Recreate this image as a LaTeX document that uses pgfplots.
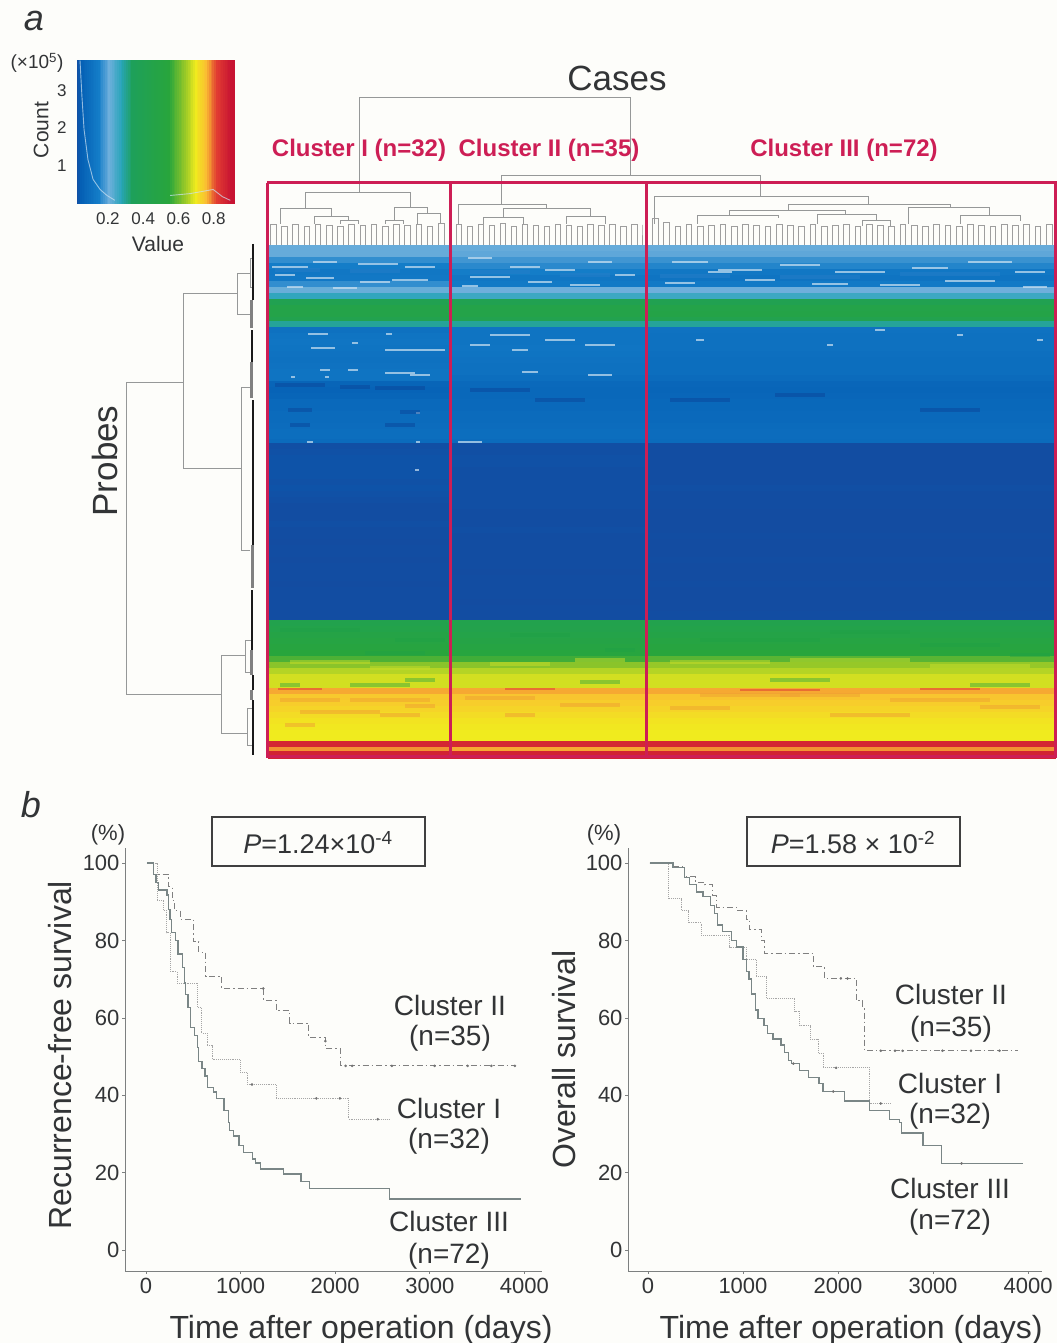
\documentclass[border=0pt]{standalone}
\usepackage{pgfplots}
\usepackage{pgfplotstable}
\usepackage{fontspec}
\setmainfont{Liberation Sans}
\pgfplotsset{compat=1.18}
\definecolor{paper}{RGB}{253,253,250}
\definecolor{txt}{RGB}{50,52,54}
\definecolor{crim}{RGB}{205,30,85}
\definecolor{dend}{RGB}{150,152,152}
\definecolor{axl}{RGB}{125,128,128}
\definecolor{sdark}{RGB}{10,70,155}
\definecolor{smid}{RGB}{35,125,200}
\definecolor{sgreen}{RGB}{30,160,70}
\definecolor{slime}{RGB}{200,220,40}
\definecolor{sorange}{RGB}{240,160,50}
\definecolor{sred}{RGB}{225,70,50}
\definecolor{spale}{RGB}{205,226,242}
\definecolor{sIII}{RGB}{122,134,134}
\newcommand\fs[1]{\fontsize{#1}{#1}\selectfont}
\pgfplotsset{
 colormap={hm}{rgb255(0)=(10,62,150); rgb255(2.5)=(20,75,160); rgb255(5)=(5,95,180); rgb255(15)=(20,125,200); rgb255(21)=(110,175,220); rgb255(28)=(40,165,185); rgb255(34)=(30,160,90); rgb255(55)=(40,165,60); rgb255(64)=(150,200,40); rgb255(70)=(240,235,30); rgb255(76)=(250,190,50); rgb255(82)=(225,60,50); rgb255(90)=(200,20,50); rgb255(100)=(190,15,50)},
 cell/.style n args={2}{scatter, only marks, mark=square*, mark size=1pt, forget plot,
   point meta=explicit, mark options={xscale=#1,yscale=#2,line width=0.2pt},
   scatter/use mapped color={draw=mapped color,fill=mapped color}},
 heatframe/.style={at={(268pt,586pt)},anchor=south west,scale only axis,width=787pt,height=512pt,
   xmin=268,xmax=1055,ymin=245,ymax=757,y dir=reverse,hide axis,clip=false},
 surv/.style={scale only axis, width=417pt, height=423pt, xmin=-222, xmax=4186, ymin=-5.4, ymax=103.9,
   axis lines*=left, axis line style={-,draw=axl,line width=0.9pt},
   xtick={0,1000,2000,3000,4000}, ytick={0,20,40,60,80,100},
   tick style={draw=axl,line width=0.7pt}, major tick length=3pt, tick align=outside,
   tick label style={font=\fs{22},text=txt},
   /pgf/number format/assume math mode=true, /pgf/number format/1000 sep={},
   xticklabel style={yshift=-1pt}, yticklabel style={xshift=1pt},
   clip=false},
 cIII/.style={const plot, no marks, draw=sIII, line width=1.4pt},
 cI/.style={const plot, no marks, draw=black!35, line width=0.9pt, densely dotted},
 cII/.style={const plot, no marks, draw=black!50, line width=1pt, dash pattern=on 6pt off 3pt on 1.5pt off 3pt},
 cens/.style={only marks, mark=*, mark size=1.1pt, forget plot, mark options={draw=black!55,fill=black!55}},
}
\newcommand\nd[5]{\addplot[no marks,forget plot,draw=dend,line width=0.8pt] coordinates {(#1,#4)(#1,#3)(#2,#3)(#2,#5)};}
\newcommand\nh[5]{\addplot[no marks,forget plot,draw=dend,line width=0.8pt] coordinates {(#4,#1)(#3,#1)(#3,#2)(#5,#2)};}
% streaks in the heat map: x from, x to, row
\newcommand\mk[4]{\newcommand#1[3]{\addplot[no marks,forget plot,draw=#2,line width=#3,opacity=#4] coordinates {(##1,##3)(##2,##3)};}}
\mk\Sa{spale}{1.4pt}{.7}
\mk\Sd{sdark}{4pt}{.5}
\mk\Sm{smid}{4pt}{.6}
\mk\Sg{sgreen}{4pt}{.4}
\mk\Sy{slime}{4pt}{.5}
\mk\So{sorange}{4pt}{.5}
\mk\Sr{sred}{2.5pt}{.6}
\pgfplotstableread{
y c1 c2 c3
248 .205 .205 .205
254 .205 .20 .20
260 .17 .18 .175
266 .15 .165 .16
272 .13 .15 .13
278 .135 .13 .12
284 .17 .14 .14
290 .215 .21 .21
296 .27 .26 .26
302 .40 .40 .40
308 .46 .46 .46
314 .46 .46 .47
320 .42 .42 .42
324 .30 .30 .30
330 .11 .12 .115
336 .12 .12 .11
342 .125 .12 .11
348 .12 .125 .11
354 .115 .12 .105
360 .11 .115 .10
366 .115 .11 .10
372 .12 .11 .10
378 .12 .10 .09
384 .07 .085 .075
390 .065 .08 .07
396 .07 .08 .075
402 .085 .085 .08
408 .085 .085 .08
414 .09 .09 .085
420 .09 .09 .085
426 .095 .095 .09
432 .10 .10 .095
438 .10 .10 .095
442 .09 .09 .09
446 .03 .03 .028
452 .032 .03 .028
458 .035 .032 .028
464 .035 .032 .028
470 .035 .03 .028
476 .035 .03 .028
482 .032 .03 .028
488 .035 .03 .03
494 .032 .03 .028
500 .03 .03 .028
506 .028 .03 .028
512 .028 .028 .026
518 .028 .028 .026
524 .03 .028 .026
530 .028 .03 .026
536 .028 .028 .028
542 .026 .028 .026
548 .028 .028 .026
554 .028 .028 .026
560 .026 .028 .028
566 .028 .028 .026
572 .028 .026 .026
578 .028 .028 .026
584 .026 .028 .028
590 .028 .028 .026
596 .028 .028 .026
602 .028 .026 .026
608 .028 .028 .026
614 .028 .028 .028
617 .028 .028 .028
623 .43 .43 .43
629 .45 .44 .45
635 .48 .46 .47
641 .50 .48 .50
647 .52 .50 .52
653 .55 .53 .55
659 .58 .57 .59
665 .63 .63 .64
671 .66 .66 .66
677 .68 .68 .68
683 .68 .68 .68
686 .68 .68 .68
691 .77 .77 .77
697 .745 .75 .75
703 .74 .74 .74
709 .73 .73 .73
715 .72 .72 .72
721 .71 .71 .71
727 .705 .705 .705
733 .70 .70 .70
738 .70 .70 .70
744 .86 .86 .86
750 .78 .77 .78
754.8 .87 .87 .87
}\heatrows
\begin{document}
\begin{tikzpicture}
\useasboundingbox (0,0) rectangle (1057pt,1343pt);
\fill[paper] (0,0) rectangle (1057pt,1343pt);
% ---- page-wide axis in pixel units: dendrograms and annotations
\begin{axis}[at={(0,0)},anchor=south west,scale only axis,width=1057pt,height=1343pt,
  xmin=0,xmax=1057,ymin=0,ymax=1343,y dir=reverse,hide axis,clip=false]
% case dendrogram, upper levels
\nd{359}{630}{97}{192}{175}
\nd{501}{760}{175}{204}{196}
\nd{305}{410}{192}{208}{207}
\nd{280}{331}{208}{224}{216}
\nd{314}{348}{216}{224}{220}
\nd{340}{358}{220}{224}{224}
\nd{394}{427}{207}{220}{213}
\nd{385}{403}{220}{224}{224}
\nd{417}{440}{213}{224}{224}
\nd{458}{546}{204}{224}{208}
\nd{503}{590}{208}{217}{216}
\nd{483}{523}{217}{224}{224}
\nd{566}{605}{216}{224}{224}
\nd{654}{868}{196}{224}{204}
\nd{788}{950}{204}{210}{207}
\nd{729}{845}{210}{215}{214}
\nd{908}{989}{207}{224}{215}
\nd{697}{778}{215}{224}{218}
\nd{817}{876}{214}{224}{220}
\nd{960}{1020}{215}{224}{221}
\nd{862}{890}{220}{226}{226}
% case dendrogram, leaves (the lower ends run under the heat map)
\addplot[const plot,no marks,forget plot,draw=black!38,line width=0.8pt] coordinates {
(270,246)(270,224)(276,246)(281,226)(287,246)(292,224)(298,246)(304,226)(309,246)(315,224)(320,246)(326,225)(332,246)(337,226)(343,246)(348,224)(354,246)(360,225)(365,246)(371,224)(376,246)(382,226)(388,246)(393,224)(399,246)(404,225)(410,246)(416,224)(421,246)(427,226)(432,246)(438,223)(444,246)};
\addplot[const plot,no marks,forget plot,draw=black!38,line width=0.8pt] coordinates {
(456,246)(456,224)(461,246)(467,226)(472,246)(478,224)(483,246)(489,225)(494,246)(500,223)(505,246)(511,226)(516,246)(522,224)(527,246)(533,225)(538,246)(544,226)(549,246)(555,224)(560,246)(566,225)(571,246)(577,226)(582,246)(587,224)(593,246)(598,225)(604,246)(609,224)(615,246)(620,226)(626,246)(631,224)(637,246)(642,225)(642,246)};
\addplot[const plot,no marks,forget plot,draw=black!38,line width=0.8pt] coordinates {
(652,246)(652,218)(658,246)(663,222)(669,246)(675,226)(680,246)(686,224)(691,246)(697,226)(703,246)(708,225)(714,246)(720,224)(725,246)(731,226)(737,246)(742,224)(748,246)(753,225)(759,246)(765,226)(770,246)(776,224)(782,246)(787,225)(793,246)(798,226)(804,246)(810,224)(815,246)(821,226)(827,246)(832,225)(838,246)(843,224)(849,246)(855,226)(860,246)(866,224)(872,246)(877,225)(883,246)(888,226)(894,246)(900,224)(905,246)(911,225)(917,246)(922,226)(928,246)(933,224)(939,246)(945,225)(950,246)(956,226)(962,246)(967,224)(973,246)(978,225)(984,246)(990,226)(995,246)(1001,224)(1007,246)(1012,225)(1018,246)(1023,224)(1029,246)(1035,226)(1040,246)(1046,224)(1052,246)};
% probe dendrogram
\nh{382}{694}{126}{183}{221}
\nh{293}{468}{183}{237}{241}
\nh{273}{314}{237}{250}{250}
\nh{387}{550}{241}{250}{250}
\nh{655}{733}{221}{245}{247}
\nh{640}{672}{245}{252}{252}
\nh{708}{745}{247}{252}{252}
\nh{258}{287}{250}{253}{253}
\addplot[no marks,forget plot,draw=black!90,line width=2pt] table {
x y
253 244
253 300

252 330
252 362

253 400
253 545

252 590
252 650

253 675
253 690

253 700
253 755
};
\addplot[no marks,forget plot,draw=black!50,line width=3pt] table {
x y
251 300
251 328

251 362
251 398

252 545
252 588

251 650
251 675

251 690
251 700
};
% texts
\node[font=\itshape\fs{36},text=txt] at (axis cs:34,21) {a};
\node[font=\itshape\fs{36},text=txt] at (axis cs:31,805) {b};
\node[font=\fs{19},text=txt] at (axis cs:37,63) {(×10\textsuperscript{5})};
\node[font=\fs{35},text=txt] at (axis cs:617,78) {Cases};
\node[font=\fs{35},text=txt,rotate=90] at (axis cs:105,461) {Probes};
\node[font=\bfseries\fs{24},text=crim] at (axis cs:359,150.5) {Cluster I (n=32)};
\node[font=\bfseries\fs{24},text=crim] at (axis cs:549,150.5) {Cluster II (n=35)};
\node[font=\bfseries\fs{24},text=crim] at (axis cs:844,150.5) {Cluster III (n=72)};
\node[font=\fs{22},text=txt] at (axis cs:108,835) {(\%)};
\node[font=\fs{22},text=txt] at (axis cs:604,835) {(\%)};
\draw[black!75,line width=1.2pt] (axis cs:212,817) rectangle (axis cs:425,866);
\draw[black!75,line width=1.2pt] (axis cs:747,817) rectangle (axis cs:960,866);
\node[font=\fs{27},text=txt] at (axis cs:318,843) {{\itshape P}=1.24×10\textsuperscript{-4}};
\node[font=\fs{27},text=txt] at (axis cs:853,843) {{\itshape P}=1.58 × 10\textsuperscript{-2}};
\node[font=\fs{28},text=txt] at (axis cs:450,1005) {Cluster II};
\node[font=\fs{28},text=txt] at (axis cs:450,1038) {(n=35)};
\node[font=\fs{28},text=txt] at (axis cs:449,1108) {Cluster I};
\node[font=\fs{28},text=txt] at (axis cs:449,1141) {(n=32)};
\node[font=\fs{28},text=txt] at (axis cs:449,1221) {Cluster III};
\node[font=\fs{28},text=txt] at (axis cs:449,1256) {(n=72)};
\node[font=\fs{28},text=txt] at (axis cs:951,994) {Cluster II};
\node[font=\fs{28},text=txt] at (axis cs:951,1029) {(n=35)};
\node[font=\fs{28},text=txt] at (axis cs:950,1083) {Cluster I};
\node[font=\fs{28},text=txt] at (axis cs:950,1116) {(n=32)};
\node[font=\fs{28},text=txt] at (axis cs:950,1188) {Cluster III};
\node[font=\fs{28},text=txt] at (axis cs:950,1222) {(n=72)};
\end{axis}
% ---- heat map: rows
\begin{axis}[heatframe,colormap name=hm,point meta min=0,point meta max=1]
\addplot[cell={91}{3.2}] table[x expr=359,y=y,meta=c1] {\heatrows};
\addplot[cell={98}{3.2}] table[x expr=548,y=y,meta=c2] {\heatrows};
\addplot[cell={204.5}{3.2}] table[x expr=850.5,y=y,meta=c3] {\heatrows};
\end{axis}
% ---- heat map: streaks and frames, on top of the rows
\begin{axis}[heatframe]
\Sm{275}{320}{270}\Sm{350}{400}{271}\Sm{470}{530}{272}\Sm{560}{610}{275}\Sm{660}{730}{276}\Sm{780}{860}{277}\Sm{900}{1000}{274}
\Sa{272}{308}{267}\Sa{313}{337}{262}\Sa{358}{398}{264}\Sa{405}{435}{267}\Sa{275}{295}{275}\Sa{306}{334}{278}\Sa{360}{390}{282}\Sa{392}{428}{280}\Sa{287}{303}{287}\Sa{333}{357}{288}
\Sa{468}{492}{258}\Sa{510}{540}{267}\Sa{545}{575}{270}\Sa{588}{612}{262}\Sa{470}{510}{277}\Sa{528}{552}{282}\Sa{570}{600}{285}\Sa{615}{635}{275}\Sa{462}{478}{286}
\Sa{672}{708}{262}\Sa{718}{762}{270}\Sa{780}{820}{265}\Sa{835}{885}{272}\Sa{912}{948}{268}\Sa{968}{1012}{262}\Sa{1015}{1045}{272}\Sa{665}{695}{283}\Sa{745}{775}{280}\Sa{812}{848}{284}\Sa{880}{920}{285}\Sa{945}{995}{281}\Sa{1023}{1047}{287}\Sa{708}{732}{272}
\Sa{308}{328}{334}\Sa{386}{392}{334}\Sa{385}{445}{350}\Sa{311}{335}{348}\Sa{352}{358}{343}\Sa{320}{330}{370}\Sa{348}{358}{370}\Sa{385}{415}{373}\Sa{410}{430}{375}\Sa{291}{295}{377}\Sa{325}{329}{377}\Sa{416}{420}{413}\Sa{307}{313}{442}\Sa{416}{420}{442}\Sa{415}{419}{470}
\Sa{490}{530}{335}\Sa{545}{575}{340}\Sa{585}{615}{345}\Sa{470}{490}{345}\Sa{522}{538}{372}\Sa{588}{612}{375}\Sa{458}{482}{442}\Sa{512}{528}{350}
\Sa{696}{704}{340}\Sa{827}{833}{345}\Sa{875}{885}{330}\Sa{957}{963}{335}\Sa{1037}{1043}{340}
\Sd{275}{325}{385}\Sd{340}{370}{387}\Sd{375}{425}{388}\Sd{288}{312}{410}\Sd{400}{420}{412}\Sd{290}{310}{425}\Sd{385}{415}{425}\Sd{470}{530}{390}\Sd{535}{585}{400}\Sd{670}{730}{400}\Sd{775}{825}{395}\Sd{920}{980}{410}
\Sg{280}{360}{630}\Sg{395}{445}{640}\Sg{365}{425}{653}\Sg{510}{570}{635}\Sg{605}{635}{650}\Sg{700}{820}{640}\Sg{830}{910}{632}\Sg{920}{1000}{645}\Sg{1010}{1050}{655}\Sg{405}{435}{680}\Sg{350}{410}{685}\Sg{280}{300}{685}\Sg{580}{620}{682}\Sg{770}{830}{680}\Sg{970}{1030}{685}
\Sy{290}{370}{662}\Sy{370}{430}{668}\Sy{490}{550}{664}\Sy{575}{625}{660}\Sy{670}{770}{662}\Sy{790}{910}{660}\Sy{930}{1030}{666}
\So{280}{340}{700}\So{350}{430}{700}\So{300}{380}{712}\So{405}{435}{706}\So{285}{315}{725}\So{380}{420}{715}\So{465}{535}{698}\So{560}{620}{705}\So{505}{535}{715}\So{700}{800}{695}\So{780}{860}{695}\So{890}{990}{700}\So{980}{1040}{707}\So{670}{730}{708}\So{830}{910}{715}
\Sr{278}{322}{689}\Sr{505}{555}{689}\Sr{740}{820}{690}\Sr{920}{980}{689}
% frames of the clusters
\addplot[no marks,forget plot,draw=crim,line width=3pt] coordinates {(267,183)(1055.5,183)(1055.5,757)(267,757)(267,183)};
\addplot[no marks,forget plot,draw=crim,line width=3pt] coordinates {(450,183)(450,757)};
\addplot[no marks,forget plot,draw=crim,line width=3pt] coordinates {(646,183)(646,757)};
\end{axis}
% ---- colour key
\begin{axis}[at={(77pt,1140pt)},anchor=south west,scale only axis,width=157pt,height=143pt,
  xmin=.025,xmax=.915,ymin=0,ymax=3.81,colormap name=hm,point meta min=0,point meta max=1,
  axis line style={draw=none},major tick length=0pt,clip=false,
  xtick={.2,.4,.6,.8},ytick={1,2,3},
  tick label style={font=\fs{17},text=txt},/pgf/number format/assume math mode=true,
  /pgf/number format/fixed,/pgf/number format/precision=1,
  xticklabel style={yshift=-6pt},yticklabel style={xshift=-7pt},
  xlabel={Value},ylabel={Count},
  every axis x label/.style={at={(axis description cs:.516,-.285)},anchor=center,font=\fs{21},text=txt},
  every axis y label/.style={at={(axis description cs:-.228,.51)},anchor=center,rotate=90,font=\fs{21},text=txt}]
\addplot[cell={1.15}{71.5}] table[row sep=\\,x=v,y expr=1.905,meta=v] {
v\\.03\\.04\\.05\\.06\\.07\\.08\\.09\\.10\\.11\\.12\\.13\\.14\\.15\\.16\\.17\\.18\\.19\\.20\\.21\\.22\\.23\\.24\\.25\\.26\\.27\\.28\\.29\\.30\\.31\\.32\\.33\\.34\\.35\\.36\\.37\\.38\\.39\\.40\\.41\\.42\\.43\\.44\\.45\\.46\\.47\\.48\\.49\\.50\\.51\\.52\\.53\\.54\\.55\\.56\\.57\\.58\\.59\\.60\\.61\\.62\\.63\\.64\\.65\\.66\\.67\\.68\\.69\\.70\\.71\\.72\\.73\\.74\\.75\\.76\\.77\\.78\\.79\\.80\\.81\\.82\\.83\\.84\\.85\\.86\\.87\\.88\\.89\\.90\\.91\\
};
\end{axis}
\begin{axis}[at={(77pt,1140pt)},anchor=south west,scale only axis,width=157pt,height=143pt,
  xmin=.025,xmax=.915,ymin=0,ymax=3.81,hide axis]
\addplot[no marks,forget plot,draw=spale,line width=0.9pt,opacity=.7] coordinates {(.042,3.8)(.053,2.84)(.065,1.96)(.087,1.16)(.116,.63)(.156,.36)(.195,.2)(.24,.07)};
\addplot[no marks,forget plot,draw=spale,line width=0.9pt,opacity=.7] coordinates {(.553,.2)(.667,.25)(.797,.36)(.849,.17)(.894,.07)};
\end{axis}
% ---- recurrence-free survival
\begin{axis}[surv,at={(125pt,72pt)},anchor=south west,
  xlabel={Time after operation (days)},ylabel={Recurrence-free survival},
  every axis x label/.style={at={(axis description cs:.566,-.139)},anchor=center,font=\fs{32},text=txt},
  every axis y label/.style={at={(axis description cs:-.156,.51)},anchor=center,rotate=90,font=\fs{32},text=txt}]
\addplot[cI] table {
x y
10 100
116 90.4
187 87.7
220 82
257 72
328 69
545 62.7
590 56
645 52.8
698 49.2
997 46
1068 42.8
1378 39.2
2142 33.8
2583 33.8
};
\addplot[cII] table {
x y
10 100
75 97.1
239 94
275 90.4
300 87.7
363 85.5
504 79.7
560 77
634 70.7
803 67.6
1244 64.5
1378 61.8
1519 58.6
1720 55
1896 52.2
2054 47.6
3904 47.6
};
\addplot[cIII] table {
x y
10 100
78 97
105 95
130 93
222 91.8
240 88
255 85.5
272 82
310 80
340 76.5
385 73
405 69
420 66
445 62.7
470 57.5
510 55.5
545 52.4
557 48.8
590 47
625 45
650 42
715 40.8
745 39.2
825 36
870 33
885 30.9
927 29.5
985 27
1032 25.2
1125 23.5
1160 22.5
1209 21
1455 19.7
1640 17.7
1730 15.9
2576 13.2
3964 13.2
};
\addplot[cens] coordinates {(2110,47.6)(2180,47.6)(2600,47.6)(3050,47.6)(3400,47.6)(3650,47.6)(3900,47.6)(1896,54)(1240,67.6)(1120,42.8)(1800,39.2)(2050,39.2)(2450,33.8)};
\end{axis}
% ---- overall survival
\begin{axis}[surv,width=414pt,xmin=-210,xmax=4147,at={(628pt,72pt)},anchor=south west,
  xlabel={Time after operation (days)},ylabel={Overall survival},
  every axis x label/.style={at={(axis description cs:.539,-.139)},anchor=center,font=\fs{32},text=txt},
  every axis y label/.style={at={(axis description cs:-.155,.5)},anchor=center,rotate=90,font=\fs{32},text=txt}]
\addplot[cI] table {
x y
18 100
211 90.8
351 87.7
421 84.6
561 81.4
860 78.3
1035 75.1
1140 70.6
1246 65
1544 61.7
1596 58
1709 54.5
1789 50.9
1842 47.1
2333 37.9
2561 37.9
};
\addplot[cII] table {
x y
18 100
263 99
386 96.5
500 95
596 94.4
684 91.5
719 88.6
930 87.7
1035 85.5
1070 82.8
1193 80
1228 76.7
1737 73.3
1860 70.2
2193 64.4
2263 62.6
2281 51.5
3895 51.5
};
\addplot[cIII] table {
x y
18 100
263 98.9
386 96.2
440 94.5
509 92.5
579 91.3
660 89
700 87
730 84
782 82.3
877 80
930 78.3
1000 75.1
1040 72
1063 70
1090 66.2
1130 62
1158 59.9
1220 58
1260 56
1316 54.5
1400 53
1439 51
1480 49
1509 48.2
1596 46.4
1690 44.6
1800 43
1842 41
2070 38.5
2333 36.1
2544 33.7
2650 33
2667 30.3
2895 27.1
3088 22.4
3947 22.4
};
\addplot[cens] coordinates {(2450,51.5)(2600,51.5)(2680,51.5)(3100,51.5)(3400,51.5)(3700,51.5)(2030,70.2)(2100,70.2)(1980,47.1)(2450,37.9)(1530,48.2)(1950,41)(3300,22.4)};
\end{axis}
\end{tikzpicture}
\end{document}
